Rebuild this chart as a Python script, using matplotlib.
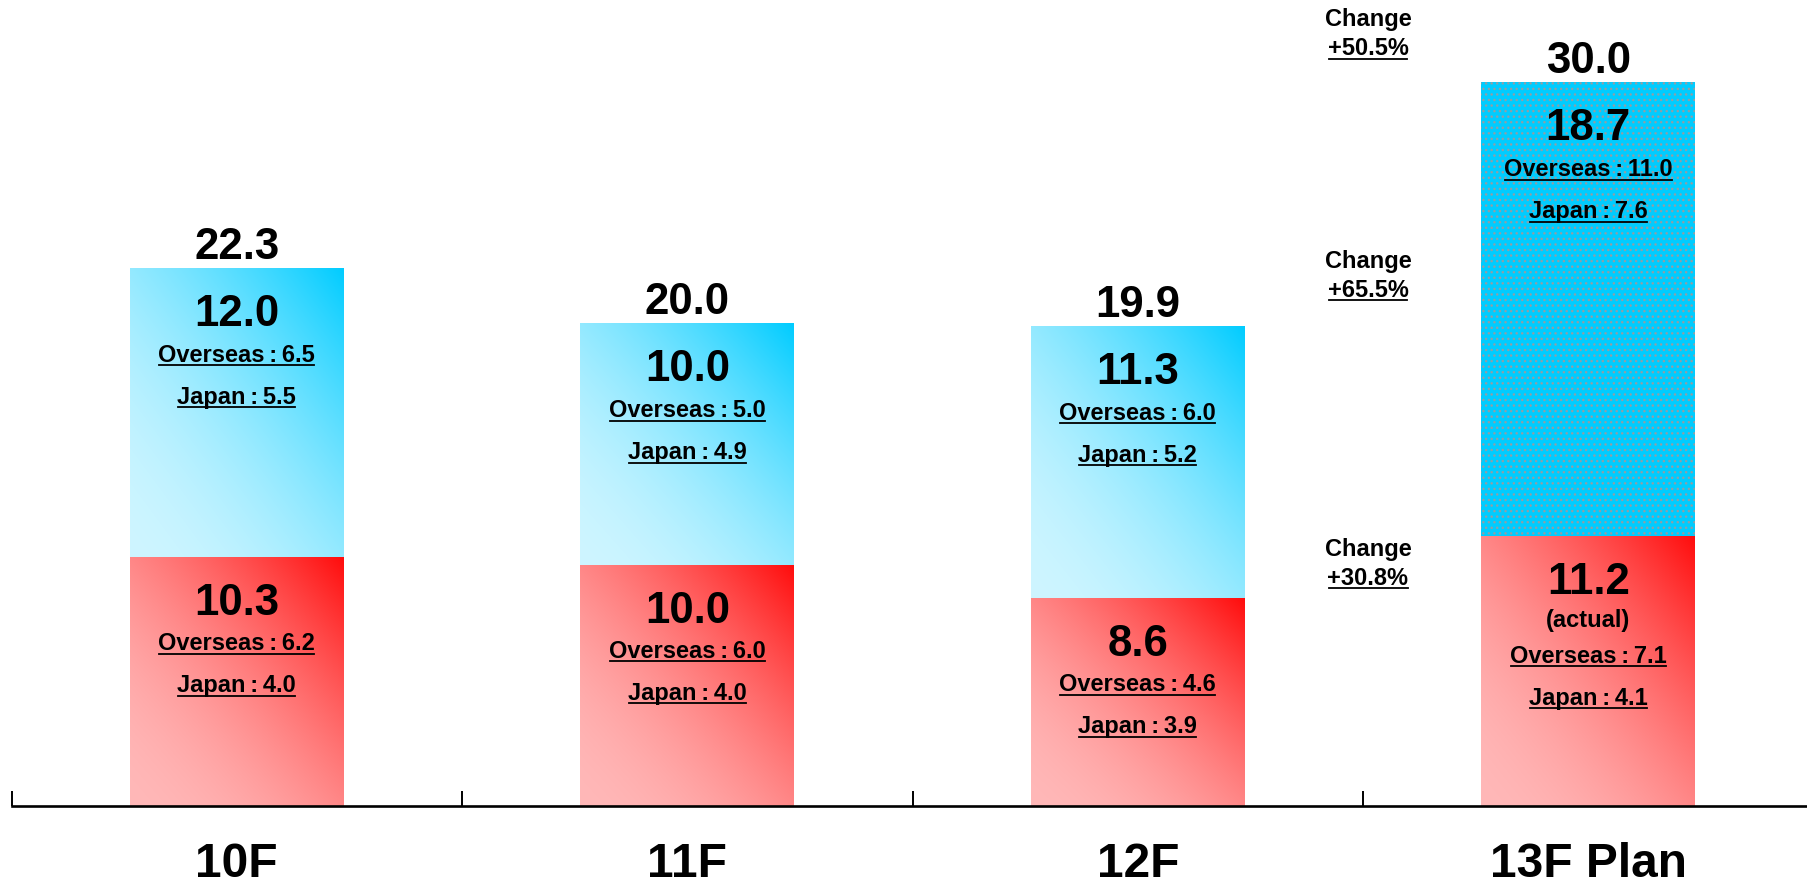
import matplotlib
matplotlib.use('Agg')
import matplotlib.pyplot as plt
import numpy as np
from matplotlib.lines import Line2D

# ---------------- data ----------------
categories = ['10F', '11F', '12F', '13F Plan']
lower_vals = [10.3, 10.0, 8.6, 11.2]          # red segment
upper_vals = [12.0, 10.0, 11.3, 18.7]         # blue segment
total_vals = [22.3, 20.0, 19.9, 30.0]
lower_overseas = [6.2, 6.0, 4.6, 7.1]
lower_japan = [4.0, 4.0, 3.9, 4.1]
upper_overseas = [6.5, 5.0, 6.0, 11.0]
upper_japan = [5.5, 4.9, 5.2, 7.6]
lower_notes = ['', '', '', '(actual)']
is_plan = [False, False, False, True]
change_labels = ['+30.8%', '+65.5%', '+50.5%']
change_levels = [9.16, 21.1, 31.12]

# ---------------- style ----------------
FONT = ['Liberation Sans', 'DejaVu Sans']
plt.rcParams['font.family'] = FONT
plt.rcParams['font.weight'] = 'bold'
plt.rcParams['hatch.linewidth'] = 1.0

W, H = 1807, 885
fig = plt.figure(figsize=(W / 100, H / 100), dpi=100)
PX_PER_UNIT = 24.13
ax = fig.add_axes([11.5 / W, 79 / H, 1802 / W, (H - 79) / H])
ax.set_xlim(-0.5, 3.5)
ax.set_ylim(0, (H - 79) / PX_PER_UNIT)
for s in ['top', 'right', 'left']:
    ax.spines[s].set_visible(False)
ax.spines['bottom'].set_linewidth(1.9)
ax.set_yticks([])
ax.set_xticks([-0.5, 0.5, 1.5, 2.5])
ax.set_xticklabels([])
ax.tick_params(axis='x', direction='in', length=10.5, width=1.4, color='black')

BAR_W = 0.475
x = np.arange(len(categories))
upper_heights = [t - l for t, l in zip(total_vals, lower_vals)]

red_bars = ax.bar(x, lower_vals, width=BAR_W, color='none', linewidth=0, zorder=2)
blue_bars = ax.bar(x, upper_heights, bottom=lower_vals, width=BAR_W,
                   color='none', linewidth=0, zorder=2)


def gradient(light, dark, n=256, power=1.8):
    u = np.linspace(0, 1, n)
    X, Y = np.meshgrid(u, u)
    t = ((X + Y) / 2) ** power
    light = np.array(light) / 255
    dark = np.array(dark) / 255
    return light + (dark - light) * t[..., None]


RED_IMG = gradient((255, 184, 184), (255, 12, 12))
BLUE_IMG = gradient((206, 245, 255), (0, 204, 255))

for i, p in enumerate(red_bars.patches):
    x0, y0, w, h = p.get_x(), p.get_y(), p.get_width(), p.get_height()
    im = ax.imshow(RED_IMG, extent=(x0, x0 + w, y0, y0 + h), origin='lower',
                   aspect='auto', zorder=1, interpolation='bilinear')
    im.set_clip_path(p)

for i, p in enumerate(blue_bars.patches):
    x0, y0, w, h = p.get_x(), p.get_y(), p.get_width(), p.get_height()
    if is_plan[i]:
        p.set_facecolor('#00CCFF')
        p.set_hatch('...')
        p.set_edgecolor('#8E9FA8')
        p.set_linewidth(0)
    else:
        im = ax.imshow(BLUE_IMG, extent=(x0, x0 + w, y0, y0 + h), origin='lower',
                       aspect='auto', zorder=1, interpolation='bilinear')
        im.set_clip_path(p)

ax.set_xlim(-0.5, 3.5)
ax.set_ylim(0, (H - 79) / PX_PER_UNIT)

underlined = []


def label(xv, yv, s, size, dy, underline=False, dx=0):
    t = ax.annotate(s, xy=(xv, yv), xytext=(dx, dy), textcoords='offset pixels',
                    ha='center', va='baseline', fontsize=size, fontweight='bold',
                    family=FONT, annotation_clip=False, zorder=5)
    if underline:
        underlined.append(t)
    return t


NUM = 31.5
SUB = 17
TS = '\u2009'
for i in range(len(categories)):
    top_red = lower_vals[i]
    top_blue = total_vals[i]
    # totals
    label(x[i], top_blue, f'{total_vals[i]:.1f}', NUM, 9)
    # blue segment
    label(x[i], top_blue, f'{upper_vals[i]:.1f}', NUM, -58)
    label(x[i], top_blue, f'Overseas{TS}:{TS}{upper_overseas[i]:.1f}', SUB, -94, True)
    label(x[i], top_blue, f'Japan{TS}:{TS}{upper_japan[i]:.1f}', SUB, -136, True)
    # red segment
    label(x[i], top_red, f'{lower_vals[i]:.1f}', NUM, -58)
    off = 0
    if lower_notes[i]:
        label(x[i], top_red, lower_notes[i], SUB, -91.5)
        off = 34
    label(x[i], top_red, f'Overseas{TS}:{TS}{lower_overseas[i]:.1f}', SUB, -93 - off, True)
    label(x[i], top_red, f'Japan{TS}:{TS}{lower_japan[i]:.1f}', SUB, -135 - off, True)
    # category
    label(x[i], 0, categories[i], 34.5, -71)

# change annotations
for lab, lev in zip(change_labels, change_levels):
    label(2.5, lev, lab, SUB, 0, True, dx=5)
    label(2.5, lev, 'Change', SUB, 29, False, dx=5)

# underlines
fig.canvas.draw()
r = fig.canvas.get_renderer()
for t in underlined:
    bb = t.get_window_extent(r)
    yy = bb.y0 + 1.5
    fig.add_artist(Line2D([(bb.x0 + 1) / W, (bb.x1 - 1) / W], [yy / H, yy / H],
                          transform=fig.transFigure, color='black', linewidth=1.3,
                          zorder=6))

fig.savefig('out.png', dpi=100)
